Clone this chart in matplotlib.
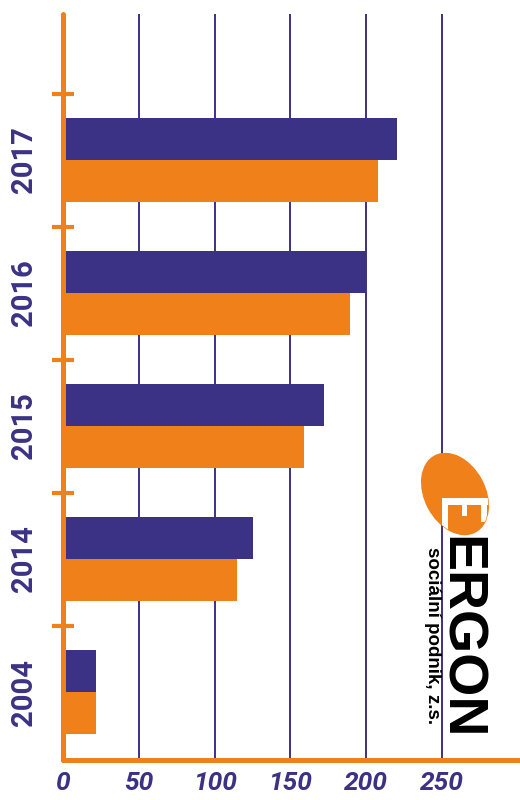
import matplotlib
matplotlib.use("Agg")
import matplotlib.pyplot as plt
from matplotlib.patches import Ellipse, Rectangle

years = ["2004", "2014", "2015", "2016", "2017"]
purple_vals = [22, 125, 172, 200, 220]
orange_vals = [22, 115, 159, 189, 208]
xticks = [0, 50, 100, 150, 200, 250]

PURPLE = "#3b3285"
ORANGE = "#ef801a"

fig = plt.figure(figsize=(5.2, 8), dpi=100)
L, R, T, B = 63, 520, 14, 760
ax = fig.add_axes([L / 520, (800 - B) / 800, (R - L) / 520, (B - T) / 800])

pos = list(range(len(years)))
h = 42 / 133
ax.barh([p + h / 2 for p in pos], purple_vals, height=h, color=PURPLE, zorder=2)
ax.barh([p - h / 2 for p in pos], orange_vals, height=h, color=ORANGE, zorder=2)

ax.set_xlim(0, (R - L) / 1.516)
ax.set_ylim(-(760 - 692) / 133, (692 - T) / 133)

for x in xticks[1:]:
    ax.axvline(x, color=PURPLE, lw=1.4, zorder=1)

for s in ["top", "right"]:
    ax.spines[s].set_visible(False)
for s in ["left", "bottom"]:
    ax.spines[s].set_color(ORANGE)
    ax.spines[s].set_linewidth(3.6)
    ax.spines[s].set_zorder(3)
    ax.spines[s].set_capstyle("round")

ax.set_xticks(xticks)
ax.set_xticklabels([str(v) for v in xticks])
ax.tick_params(axis="x", length=0, pad=8, labelcolor=PURPLE)
for lab in ax.get_xticklabels():
    lab.set_fontfamily("Roboto")
    lab.set_fontweight("bold")
    lab.set_fontstyle("italic")
    lab.set_fontsize(19)

ax.set_yticks(pos)
ax.set_yticklabels(years, rotation=90, va="center")
ax.tick_params(axis="y", which="major", length=0, pad=18, labelcolor=PURPLE)
for lab in ax.get_yticklabels():
    lab.set_fontfamily("Roboto")
    lab.set_fontweight("bold")
    lab.set_fontsize(21)
ax.set_yticks([p + 0.5 for p in pos], minor=True)
ax.tick_params(axis="y", which="minor", direction="inout", length=16,
               width=3, color=ORANGE)

# Logo overlay
ov = fig.add_axes([0, 0, 1, 1], facecolor="none")
ov.set_xlim(0, 520)
ov.set_ylim(800, 0)
ov.axis("off")
ell = Ellipse((455, 494), 60, 86, angle=-28, color=ORANGE, zorder=1)
ov.add_patch(ell)
whites = [Rectangle((442, 498), 48, 7), Rectangle((442, 498), 6, 32),
          Rectangle((462, 498), 5, 18), Rectangle((481, 498), 6, 24)]
for w in whites:
    w.set_facecolor("white")
    w.set_edgecolor("none")
    w.set_zorder(2)
    ov.add_patch(w)
    w.set_clip_path(ell)
ov.text(459, 638, "ERGON", rotation=-90, ha="center", va="center",
        fontfamily="Liberation Sans", fontweight="bold", fontsize=40, color="black")
ov.text(432, 636, "sociální podnik, z.s.", rotation=-90, ha="center", va="center",
        fontfamily="Liberation Sans", fontweight="bold", fontsize=13.5, color="black")

fig.savefig("out.png", dpi=100)
